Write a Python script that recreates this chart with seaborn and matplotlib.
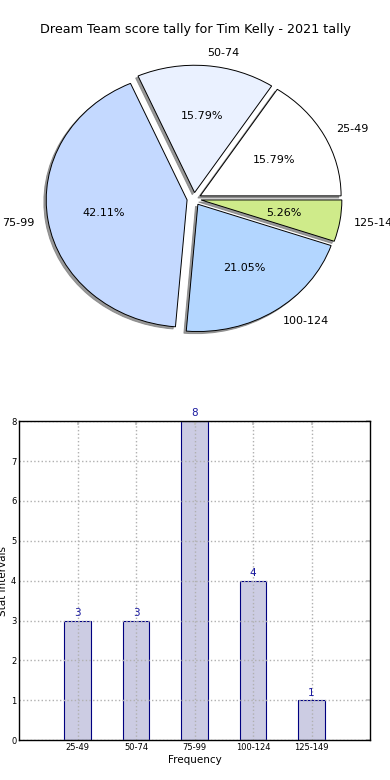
import seaborn as sns
import matplotlib.pyplot as plt
import pandas as pd

# Score intervals and how often each was hit
intervals = ['25-49', '50-74', '75-99', '100-124', '125-149']
counts = [3, 3, 8, 4, 1]
pie_colors = ['#ffffff', '#eaf1ff', '#c4d9ff', '#b3d6ff', '#cfeb8a']

title = 'Dream Team score tally for Tim Kelly - 2021 tally'

sns.set_theme(style='white')
plt.rcParams['font.family'] = ['DejaVu Sans']
plt.rcParams['text.color'] = 'black'

fig = plt.figure(figsize=(3.9, 7.8), dpi=100)
fig.patch.set_facecolor('white')

# Pie chart (old-style, not forced circular)
ax_pie = fig.add_axes([0.046, 0.541, 0.903, 0.408])
ax_pie.pie(counts, labels=intervals, colors=pie_colors, autopct='%1.2f%%',
           explode=[0.05] * len(counts),
           shadow={'ox': -0.012, 'oy': -0.012, 'color': '#808080', 'alpha': 0.8},
           startangle=0, labeldistance=1.1, pctdistance=0.6,
           wedgeprops={'edgecolor': 'black', 'linewidth': 0.7},
           textprops={'fontsize': 8, 'color': 'black'})
ax_pie.set_aspect('auto')
ax_pie.set_xlim(-1.25, 1.25)
ax_pie.set_ylim(-1.25, 1.25)

fig.text(0.5, 1 - 30 / 780, title, ha='center', va='center', fontsize=9.2,
         color='black')

# Bar chart
df = pd.DataFrame({'interval': intervals, 'count': counts})
ax_bar = fig.add_axes([0.049, 0.051, 0.9, 0.409])
sns.barplot(data=df, x='interval', y='count', ax=ax_bar, color='#ccccE3',
            saturation=1, width=0.45, edgecolor='#000080', linewidth=0.8)
ax_bar.set_xlim(-1, 5)
ax_bar.set_ylim(0, 8)
ax_bar.set_yticks(range(0, 9))
ax_bar.grid(True, linestyle=':', color='#b0b0b0', linewidth=1.0)
ax_bar.set_axisbelow(False)
for spine in ax_bar.spines.values():
    spine.set_color('black')
    spine.set_linewidth(1.0)
    spine.set_zorder(5)
ax_bar.tick_params(direction='in', top=True, right=True, length=3,
                   labelsize=6, color='#c0c0c0', labelcolor='black', pad=2)
ax_bar.set_xlabel('Frequency', fontsize=7.5, labelpad=2.5, color='black')
ax_bar.set_ylabel('Stat Intervals', fontsize=7.5, labelpad=2, color='black')

for i, c in enumerate(counts):
    ax_bar.annotate(str(c), (i, c), xytext=(0, 2), textcoords='offset points',
                    ha='center', va='bottom', fontsize=7.5, color='#1a1aa0')

fig.savefig('out.png', dpi=100)
